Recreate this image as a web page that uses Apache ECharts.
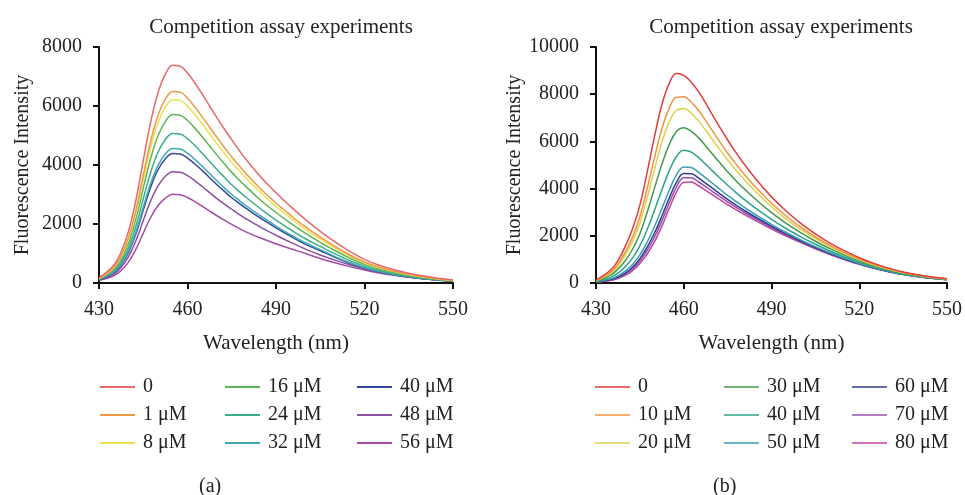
<!DOCTYPE html>
<html>
<head>
<meta charset="utf-8">
<script src="https://cdn.jsdelivr.net/npm/echarts@6/dist/echarts.min.js"></script>
<style>
html, body { margin: 0; background: #fff; }
#main { width: 965px; height: 495px; }
</style>
</head>
<body>
<div id="main"></div>
<script>
// wavelength grid (nm), shared by both panels; finer around the peak
var wavelengths = [430, 435, 437.5, 440, 442.5, 445, 447.5, 450, 452.5, 455, 457.5, 460, 462.5, 465, 467.5,
                   470, 472.5, 475, 477.5, 480, 485, 490, 495, 500, 505, 510, 515, 520, 525, 530, 535, 540, 545, 550];

// panel (a)
var namesA = ['0', '1 μM', '8 μM', '16 μM', '24 μM', '32 μM', '40 μM', '48 μM', '56 μM'];
var a0  = [170, 600, 1050, 1750, 2800, 4150, 5450, 6450, 7080, 7380, 7350, 7120, 6780, 6400, 6000, 5600, 5220, 4850, 4500, 4170, 3580, 3060, 2590, 2150, 1750, 1390, 1070, 800, 600, 450, 330, 235, 160, 100];
var a1  = [160, 530, 925, 1540, 2465, 3650, 4795, 5675, 6230, 6495, 6470, 6265, 5965, 5630, 5280, 4930, 4595, 4270, 3975, 3690, 3170, 2710, 2290, 1900, 1560, 1240, 950, 710, 535, 400, 295, 210, 140, 90];
var a8  = [150, 505, 885, 1475, 2360, 3495, 4590, 5430, 5960, 6215, 6190, 5995, 5710, 5390, 5050, 4715, 4395, 4080, 3805, 3540, 3040, 2590, 2200, 1820, 1500, 1190, 915, 685, 515, 385, 280, 200, 135, 85];
var a16 = [140, 465, 815, 1355, 2165, 3210, 4220, 4990, 5480, 5710, 5690, 5510, 5250, 4955, 4645, 4335, 4040, 3750, 3495, 3250, 2790, 2390, 2020, 1680, 1380, 1100, 845, 630, 475, 355, 260, 185, 125, 80];
var a24 = [130, 410, 720, 1200, 1925, 2850, 3745, 4430, 4865, 5070, 5050, 4890, 4660, 4395, 4120, 3845, 3585, 3330, 3105, 2890, 2500, 2130, 1805, 1500, 1240, 985, 760, 570, 425, 320, 235, 165, 115, 70];
var a32 = [120, 370, 650, 1080, 1730, 2565, 3370, 3985, 4375, 4560, 4540, 4400, 4190, 3955, 3710, 3460, 3225, 3000, 2800, 2610, 2260, 1930, 1630, 1355, 1130, 895, 690, 515, 385, 290, 215, 150, 105, 65];
var a40 = [110, 355, 625, 1040, 1665, 2470, 3245, 3840, 4215, 4390, 4375, 4235, 4035, 3810, 3570, 3330, 3105, 2890, 2700, 2520, 2180, 1870, 1580, 1310, 1095, 870, 670, 500, 375, 280, 205, 145, 100, 63];
var a48 = [100, 305, 535, 895, 1430, 2120, 2785, 3295, 3620, 3770, 3755, 3640, 3465, 3270, 3065, 2860, 2675, 2500, 2330, 2170, 1880, 1620, 1375, 1150, 950, 775, 620, 485, 370, 280, 205, 145, 100, 62];
var a56 = [90, 245, 425, 710, 1140, 1690, 2220, 2625, 2880, 3005, 2990, 2900, 2760, 2605, 2440, 2280, 2130, 1985, 1850, 1725, 1515, 1330, 1160, 1000, 830, 685, 555, 440, 340, 260, 195, 140, 95, 60];
var colorsA = ['#e8686a', '#ee9a45', '#ece04a', '#5cb553', '#3aae86', '#3fa7b5', '#33479c', '#8a4f9f', '#a54aa6'];

// panel (b)
var namesB = ['0', '10 μM', '20 μM', '30 μM', '40 μM', '50 μM', '60 μM', '70 μM', '80 μM'];
var b0  = [120, 550, 950, 1550, 2300, 3300, 4700, 6200, 7550, 8450, 8880, 8800, 8520, 8120, 7620, 7080, 6560, 6060, 5590, 5150, 4350, 3650, 3050, 2530, 2080, 1690, 1360, 1070, 830, 630, 470, 350, 255, 185];
var b10 = [105, 460, 800, 1305, 1945, 2805, 4005, 5310, 6520, 7390, 7875, 7890, 7670, 7320, 6880, 6410, 5950, 5510, 5100, 4710, 4000, 3380, 2840, 2365, 1955, 1595, 1285, 1015, 790, 600, 450, 335, 245, 175];
var b20 = [95, 415, 720, 1170, 1750, 2535, 3625, 4820, 5955, 6805, 7320, 7395, 7205, 6880, 6475, 6040, 5620, 5210, 4830, 4470, 3810, 3230, 2720, 2275, 1885, 1540, 1245, 985, 765, 585, 435, 325, 235, 170];
var b30 = [80, 335, 590, 945, 1430, 2090, 3000, 4020, 5025, 5855, 6415, 6575, 6440, 6160, 5805, 5435, 5070, 4715, 4385, 4070, 3495, 2985, 2530, 2130, 1770, 1455, 1180, 935, 725, 555, 415, 310, 225, 165];
var b40 = [65, 240, 420, 690, 1055, 1570, 2270, 3085, 3945, 4740, 5360, 5620, 5550, 5320, 5030, 4730, 4430, 4140, 3870, 3610, 3130, 2700, 2310, 1955, 1640, 1355, 1100, 875, 685, 525, 395, 290, 215, 155];
var b50 = [50, 175, 305, 500, 780, 1190, 1735, 2395, 3145, 3920, 4580, 4920, 4895, 4700, 4455, 4205, 3955, 3715, 3490, 3270, 2860, 2485, 2145, 1830, 1540, 1280, 1045, 830, 650, 500, 375, 275, 205, 145];
var b60 = [45, 145, 255, 420, 670, 1035, 1520, 2120, 2825, 3590, 4265, 4635, 4630, 4450, 4225, 4000, 3770, 3545, 3335, 3135, 2755, 2405, 2080, 1780, 1500, 1250, 1020, 815, 635, 490, 370, 270, 200, 145];
var b70 = [45, 130, 225, 375, 595, 935, 1380, 1940, 2620, 3380, 4065, 4455, 4460, 4290, 4080, 3865, 3650, 3435, 3235, 3045, 2685, 2350, 2035, 1745, 1475, 1230, 1005, 800, 630, 485, 365, 270, 200, 140];
var b80 = [40, 110, 190, 320, 520, 830, 1230, 1750, 2400, 3150, 3850, 4260, 4280, 4120, 3920, 3720, 3520, 3320, 3130, 2950, 2610, 2290, 1990, 1710, 1450, 1210, 990, 790, 620, 480, 360, 265, 195, 140];
var colorsB = ['#e23b3b', '#ee9440', '#dcd24a', '#3f9a4c', '#2aa587', '#3b9eb0', '#2c3d8e', '#9a4fae', '#c0459e'];

var valuesA = [a0, a1, a8, a16, a24, a32, a40, a48, a56];
var valuesB = [b0, b10, b20, b30, b40, b50, b60, b70, b80];

var FONT = 'Liberation Serif';

function makeSeries(values, names, colors, idx) {
    return values.map(function (v, i) {
        return {
            name: names[i],
            type: 'line',
            xAxisIndex: idx,
            yAxisIndex: idx,
            smooth: 0.4,
            symbol: 'none',
            silent: true,
            z: 10 - i,
            lineStyle: { color: colors[i], width: 1.5 },
            itemStyle: { color: colors[i] },
            data: wavelengths.map(function (w, k) { return [w, v[k]]; })
        };
    });
}

function makeLegends(names, colors, lefts, top, thick) {
    var out = [];
    var icon = thick ? 'path://M0,6 L35,6 L35,8 L0,8 Z' : 'path://M0,6.2 L35,6.2 L35,7.7 L0,7.7 Z';
    for (var c = 0; c < 3; c++) {
        out.push({
            orient: 'vertical',
            left: lefts[c],
            top: top,
            padding: 0,
            itemWidth: 35,
            itemHeight: 14,
            itemGap: 8,
            selectedMode: false,
            textStyle: { fontFamily: FONT, fontSize: 20, lineHeight: 20, color: '#222', padding: [0, 0, 0, 3] },
            data: names.slice(c * 3, c * 3 + 3).map(function (n, k) {
                return { name: n, icon: icon, itemStyle: { color: colors[c * 3 + k], opacity: 1 } };
            })
        });
    }
    return out;
}

function xAxis(idx) {
    return {
        type: 'value', gridIndex: idx, min: 430, max: 550, interval: 30,
        name: 'Wavelength (nm)', nameLocation: 'middle', nameGap: 50,
        nameTextStyle: { fontFamily: FONT, fontSize: 21, color: '#222' },
        axisLine: { lineStyle: { color: '#111', width: 2 } },
        axisTick: { length: 6, lineStyle: { color: '#111', width: 2 } },
        axisLabel: { fontFamily: FONT, fontSize: 20, color: '#222', margin: 17 },
        splitLine: { show: false }
    };
}

function yAxis(idx, max) {
    return {
        type: 'value', gridIndex: idx, min: 0, max: max, interval: 2000,
        name: 'Fluorescence Intensity', nameLocation: 'middle', nameGap: 66,
        nameTextStyle: { fontFamily: FONT, fontSize: 20, color: '#222' },
        axisLine: { show: true, lineStyle: { color: '#111', width: 2 } },
        axisTick: { show: true, length: 6, lineStyle: { color: '#111', width: 2 } },
        axisLabel: { fontFamily: FONT, fontSize: 20, color: '#222', margin: 17,
                     formatter: function (v) { return String(v); } },
        splitLine: { show: false }
    };
}

var myChart = echarts.init(document.getElementById('main'), null, { renderer: 'canvas' });

var option = {
    backgroundColor: '#fff',
    animation: false,
    title: [
        { text: 'Competition assay experiments', left: 276, top: 12, textAlign: 'center',
          textStyle: { fontFamily: FONT, fontSize: 21, fontWeight: 'normal', color: '#222' } },
        { text: 'Competition assay experiments', left: 776, top: 12, textAlign: 'center',
          textStyle: { fontFamily: FONT, fontSize: 21, fontWeight: 'normal', color: '#222' } }
    ],
    grid: [
        { left: 99, top: 47, width: 354, height: 236 },
        { left: 596, top: 47, width: 353, height: 236 }
    ],
    xAxis: [xAxis(0), xAxis(1)],
    yAxis: [yAxis(0, 8000), yAxis(1, 10000)],
    legend: makeLegends(namesA, colorsA, [100, 225, 357], 377, true)
        .concat(makeLegends(namesB, colorsB, [595, 724, 852], 377, false)),
    graphic: [
        { type: 'text', left: 199, top: 477, style: { text: '(a)', font: '20px "Liberation Serif"', fill: '#222' } },
        { type: 'text', left: 713, top: 477, style: { text: '(b)', font: '20px "Liberation Serif"', fill: '#222' } }
    ],
    series: makeSeries(valuesA, namesA, colorsA, 0).concat(makeSeries(valuesB, namesB, colorsB, 1))
};

myChart.setOption(option);
</script>
</body>
</html>
